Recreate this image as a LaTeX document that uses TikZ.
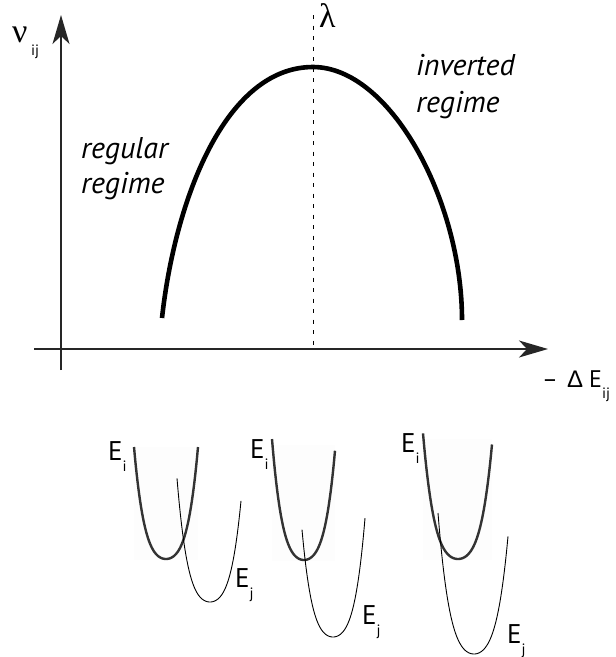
\documentclass[tikz,border=0pt]{standalone}
\usepackage{fontspec}
\setmainfont{PT Sans}
\newfontfamily\grkserif{Liberation Serif}
\newfontfamily\grksans{Liberation Sans}
\usetikzlibrary{arrows.meta}
\begin{document}
\begin{tikzpicture}[x=1pt,y=-1pt,
  declare function={wellf(\t)=0.4*\t*\t+0.6*\t*\t*\t*\t;},
  axis/.style={line width=1.6pt, draw=black!85, -{Stealth[length=29pt,width=17pt,inset=8pt]}},
  rate/.style={line width=4.6pt, line cap=butt},
  marker/.style={line width=0.9pt, dash pattern=on 4pt off 6.5pt},
  lbl/.style={inner sep=0pt, anchor=base west, font=\fontsize{27}{27}\selectfont},
  regime/.style={inner sep=0pt, anchor=base west, font=\fontsize{30}{30}\selectfont\itshape},
  greek/.style={inner sep=0pt, anchor=base west, font=\fontsize{34}{34}\selectfont\grkserif},
  subs/.style={inner sep=0pt, anchor=base west, font=\fontsize{15}{15}\selectfont},
  wellbg/.style={fill=black!0.8, draw=none},
  wellE/.style={line width=2.4pt, draw=black!80},
  wellJ/.style={line width=0.9pt, draw=black}
]
\useasboundingbox (0,0) rectangle (616,657);

% axes
\coordinate (yb) at (61,370);
\coordinate (yt) at (61,15);
\coordinate (xl) at (34,349);
\coordinate (xr) at (548,349);
\draw[axis] (yb) -- (yt);
\draw[axis] (xl) -- (xr);

% lambda marker
\coordinate (lt) at (313,15);
\coordinate (lb) at (313,347);
\draw[marker] (lt) -- (lb);

% rate curve
\coordinate (cl) at (162,318);
\coordinate (cp) at (313,67);
\coordinate (cr) at (462,320);
\draw[rate] (cl) .. controls (175,200) and (225,67) .. (cp)
            .. controls (390,67) and (462,200) .. (cr);

% labels
\node[greek] (nu) at (12,42) {ν};
\node[subs] (nusub) at (31,55) {ij};
\node[greek] (lam) at (319,27) {λ};
\node[regime] (reg1) at (81,158) {regular};
\node[regime] (reg2) at (81,193) {regime};
\node[regime] (inv1) at (416,75) {inverted};
\node[regime] (inv2) at (416,112) {regime};
\node[lbl, font=\fontsize{24}{24}\selectfont] (minus) at (542,387) {–};
\node[lbl, font=\fontsize{24}{24}\selectfont\grksans] (delta) at (567,387) {Δ};
\node[lbl, font=\fontsize{24}{24}\selectfont] (dE) at (589,387) {E\raisebox{-11pt}{\fontsize{15}{15}\selectfont ij}};

% wells, set 1
\fill[wellbg] (134,447) rectangle (198,560);
\draw[wellE] plot[domain=-32:32, samples=60, smooth] ({166+\x},{559-112*wellf(\x/32)});
\draw[wellJ] plot[domain=-33:31, samples=60, smooth] ({210+\x},{602-112*wellf(\x/32)});
\node[lbl] (ei1) at (108,460) {E\raisebox{-11pt}{\fontsize{15}{15}\selectfont i}};
\node[lbl] (ej1) at (235,587) {E\raisebox{-11pt}{\fontsize{15}{15}\selectfont j}};

% wells, set 2
\fill[wellbg] (272,445) rectangle (335,561);
\draw[wellE] plot[domain=-32:31, samples=60, smooth] ({304+\x},{560-115*wellf(\x/31.5)});
\draw[wellJ] plot[domain=-31:32, samples=60, smooth] ({333+\x},{637-113*wellf(\x/31.5)});
\node[lbl] (ei2) at (250,458) {E\raisebox{-11pt}{\fontsize{15}{15}\selectfont i}};
\node[lbl] (ej2) at (362,624) {E\raisebox{-11pt}{\fontsize{15}{15}\selectfont j}};

% wells, set 3
\fill[wellbg] (423,439) rectangle (492,560);
\draw[wellE] plot[domain=-35:34, samples=60, smooth] ({458+\x},{559-120*wellf(\x/34.5)});
\draw[wellJ] plot[domain=-36:34, samples=60, smooth] ({474+\x},{654-141*wellf(\x/36)});
\node[lbl] (ei3) at (401,452) {E\raisebox{-11pt}{\fontsize{15}{15}\selectfont i}};
\node[lbl] (ej3) at (507,643) {E\raisebox{-11pt}{\fontsize{15}{15}\selectfont j}};
\end{tikzpicture}
\end{document}
